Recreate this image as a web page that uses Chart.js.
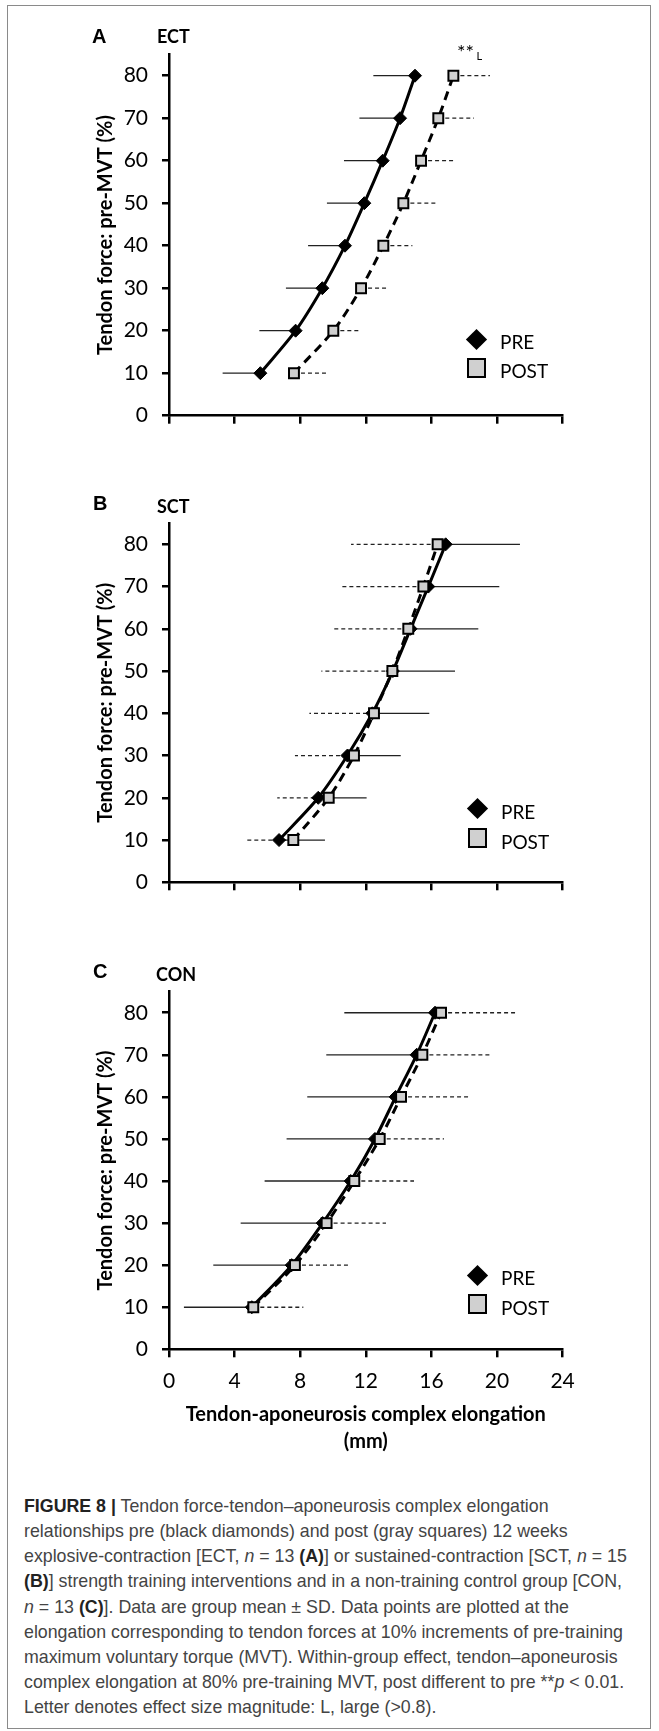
<!DOCTYPE html>
<html>
<head>
<meta charset="utf-8">
<script src="https://cdn.jsdelivr.net/npm/chart.js@4.4.1/dist/chart.umd.min.js"></script>
<style>
html,body{margin:0;padding:0;background:#fff;}
#page{position:relative;width:659px;height:1731px;overflow:hidden;background:#fff;}
#frame{position:absolute;left:7px;top:5px;width:644px;height:1724px;border:1px solid #8a8a8a;box-sizing:border-box;}
canvas{position:absolute;left:0;}
.t{position:absolute;white-space:nowrap;line-height:1;color:#000;}
.panel{font-family:'Liberation Sans',Arial,sans-serif;font-weight:bold;font-size:20px;}
.grp{font-family:Lato,sans-serif;font-weight:bold;font-size:18px;}
.leg{font-family:Lato,sans-serif;font-size:19px;}
.dia{position:absolute;width:15px;height:15px;background:#000;transform:rotate(45deg);}
.sq{position:absolute;width:19px;height:20px;background:#d0d0d0;border:2px solid #000;box-sizing:border-box;}
#caption{position:absolute;left:24px;top:1493.7px;font-family:'Liberation Sans',Arial,sans-serif;font-size:17.8px;line-height:25.2px;color:#444;white-space:nowrap;}
#caption b{color:#222;}
</style>
</head>
<body>
<div id="page">
  <div id="frame"></div>
  <canvas id="chartA" width="659" height="460" style="top:0px"></canvas>
  <canvas id="chartB" width="659" height="470" style="top:460px"></canvas>
  <canvas id="chartC" width="659" height="550" style="top:930px"></canvas>

  <div class="t panel" style="left:92px;top:26.1px">A</div>
  <div class="t grp" style="left:157px;top:27px">ECT</div>
  <div class="t panel" style="left:93px;top:493.1px">B</div>
  <div class="t grp" style="left:157px;top:497px">SCT</div>
  <div class="t panel" style="left:93px;top:961.1px">C</div>
  <div class="t grp" style="left:156px;top:964.5px">CON</div>

  <div class="t" style="left:457px;top:41px;font-family:Lato,sans-serif;font-size:20px">**</div>
  <div class="t" style="left:476.5px;top:49.5px;font-family:Lato,sans-serif;font-size:11px">L</div>

  <div class="dia" style="left:469.2px;top:331.5px"></div>
  <div class="sq" style="left:467.3px;top:357.5px"></div>
  <div class="t leg" style="left:500px;top:331.5px">PRE</div>
  <div class="t leg" style="left:500px;top:361px">POST</div>

  <div class="dia" style="left:469.8px;top:800.8px"></div>
  <div class="sq" style="left:468.3px;top:828.3px"></div>
  <div class="t leg" style="left:501px;top:801.5px">PRE</div>
  <div class="t leg" style="left:501px;top:831.7px">POST</div>

  <div class="dia" style="left:469.8px;top:1267.5px"></div>
  <div class="sq" style="left:468.3px;top:1294px"></div>
  <div class="t leg" style="left:501px;top:1267.5px">PRE</div>
  <div class="t leg" style="left:501px;top:1297.7px">POST</div>

  <div id="caption"><b>FIGURE 8 |</b> Tendon force-tendon–aponeurosis complex elongation<br>relationships pre (black diamonds) and post (gray squares) 12 weeks<br>explosive-contraction [ECT, <i>n</i> = 13 <b>(A)</b>] or sustained-contraction [SCT, <i>n</i> = 15<br><b>(B)</b>] strength training interventions and in a non-training control group [CON,<br><i>n</i> = 13 <b>(C)</b>]. Data are group mean ± SD. Data points are plotted at the<br>elongation corresponding to tendon forces at 10% increments of pre-training<br>maximum voluntary torque (MVT). Within-group effect, tendon–aponeurosis<br>complex elongation at 80% pre-training MVT, post different to pre **<i>p</i> &lt; 0.01.<br>Letter denotes effect size magnitude: L, large (&gt;0.8).</div>
</div>

<script>
// ---- data ----
const forceLevels = [10, 20, 30, 40, 50, 60, 70, 80];   // % pre-MVT

const ectPre    = [5.57, 7.72, 9.35, 10.73, 11.91, 13.03, 14.09, 15.00];
const ectPreSD  = [2.30, 2.21, 2.22, 2.25, 2.28, 2.36, 2.48, 2.54];
const ectPost   = [7.62, 10.02, 11.71, 13.07, 14.29, 15.37, 16.42, 17.34];
const ectPostSD = [2.05, 1.67, 1.70, 1.77, 2.03, 2.13, 2.18, 2.23];

const sctPre    = [6.71, 9.10, 10.88, 12.40, 13.65, 14.73, 15.81, 16.87];
const sctPreSD  = [2.80, 2.95, 3.25, 3.47, 3.79, 4.13, 4.33, 4.53];
const sctPost   = [7.58, 9.74, 11.28, 12.50, 13.62, 14.59, 15.51, 16.38];
const sctPostSD = [2.90, 3.14, 3.60, 3.94, 4.33, 4.63, 4.94, 5.28];

const conPre    = [5.05, 7.48, 9.37, 11.08, 12.56, 13.82, 15.10, 16.22];
const conPreSD  = [4.14, 4.78, 5.00, 5.25, 5.39, 5.39, 5.51, 5.53];
const conPost   = [5.14, 7.68, 9.61, 11.30, 12.85, 14.15, 15.45, 16.59];
const conPostSD = [3.05, 3.36, 3.62, 3.64, 3.92, 4.20, 4.17, 4.51];

const seriesNames = ['PRE', 'POST'];
const yAxisTitle = 'Tendon force: pre-MVT (%)';
const xAxisTitle = ['Tendon-aponeurosis complex elongation', '(mm)'];

// ---- plugin: one-sided horizontal SD bars ----
const errorBars = {
  id: 'errorBars',
  beforeDatasetsDraw(chart) {
    const ctx = chart.ctx, xs = chart.scales.x, ys = chart.scales.y;
    chart.data.datasets.forEach(ds => {
      const eb = ds.errorBar;
      if (!eb) return;
      ctx.save();
      ctx.strokeStyle = '#222';
      ctx.lineWidth = 1.3;
      ctx.setLineDash(eb.dash);
      ds.data.forEach((p, i) => {
        const yp = ys.getPixelForValue(p.y);
        ctx.beginPath();
        ctx.moveTo(xs.getPixelForValue(p.x), yp);
        ctx.lineTo(xs.getPixelForValue(p.x + eb.dir * eb.sd[i]), yp);
        ctx.stroke();
      });
      ctx.restore();
    });
  }
};

Chart.defaults.font.family = 'Lato';
Chart.defaults.color = '#000';

function pts(xs) { return xs.map((v, i) => ({ x: v, y: forceLevels[i] })); }

function makePanel(id, canvasH, areaTop, areaBottom, pre, preSD, preDir, post, postSD, postDir, showX) {
  const axisRight = 562.6;
  new Chart(document.getElementById(id), {
    type: 'scatter',
    data: {
      datasets: [
        {
          label: seriesNames[0], data: pts(pre), order: 1, showLine: true,
          borderColor: '#000', borderWidth: 3, tension: 0.3,
          pointStyle: 'rectRot', pointRadius: 6.5, pointBackgroundColor: '#000',
          pointBorderColor: '#000', pointBorderWidth: 1,
          errorBar: { sd: preSD, dir: preDir, dash: [] }
        },
        {
          label: seriesNames[1], data: pts(post), order: 0, showLine: true,
          borderColor: '#000', borderWidth: 3, borderDash: [9, 6], tension: 0.3,
          pointStyle: 'rect', pointRadius: 7, pointBackgroundColor: '#d0d0d0',
          pointBorderColor: '#000', pointBorderWidth: 2,
          errorBar: { sd: postSD, dir: postDir, dash: [4, 3] }
        }
      ]
    },
    options: {
      responsive: false, animation: false, devicePixelRatio: 1,
      layout: { padding: { top: areaTop, left: 0, right: 659 - axisRight, bottom: 0 } },
      plugins: { legend: { display: false }, tooltip: { enabled: false } },
      scales: {
        x: {
          type: 'linear', min: 0, max: 24,
          ticks: { stepSize: 4, display: showX, padding: 11, color: '#000', font: { size: 21 } },
          grid: { drawOnChartArea: false, drawTicks: true, tickLength: 8, tickColor: '#000', tickWidth: 2.5, color: '#000', lineWidth: 2.5 },
          border: { display: true, color: '#000', width: 2.5 },
          title: showX ? { display: true, text: xAxisTitle, color: '#000', font: { size: 20, weight: 'bold', lineHeight: 1.335 }, padding: { top: 0, bottom: 25 } } : { display: false },
          afterFit(s) { s.height = canvasH - areaBottom; }
        },
        y: {
          type: 'linear', min: 0, max: 85,
          ticks: { stepSize: 10, includeBounds: false, padding: 14, color: '#000', font: { size: 21 } },
          grid: { drawOnChartArea: false, drawTicks: true, tickLength: 7, tickColor: '#000', tickWidth: 2.5, color: '#000', lineWidth: 2.5 },
          border: { display: true, color: '#000', width: 2.5 },
          title: { display: true, text: yAxisTitle, color: '#000', font: { size: 20, weight: 'bold' }, padding: { top: 94, bottom: 0 } },
          afterFit(s) { s.width = 169; }
        }
      }
    },
    plugins: [errorBars]
  });
}

makePanel('chartA', 460, 54.45, 415.7, ectPre, ectPreSD, -1, ectPost, ectPostSD, 1, false);
makePanel('chartB', 470, 63.2, 422.3, sctPre, sctPreSD, 1, sctPost, sctPostSD, -1, false);
makePanel('chartC', 550, 61.7, 419.3, conPre, conPreSD, -1, conPost, conPostSD, 1, true);
</script>
</body>
</html>
